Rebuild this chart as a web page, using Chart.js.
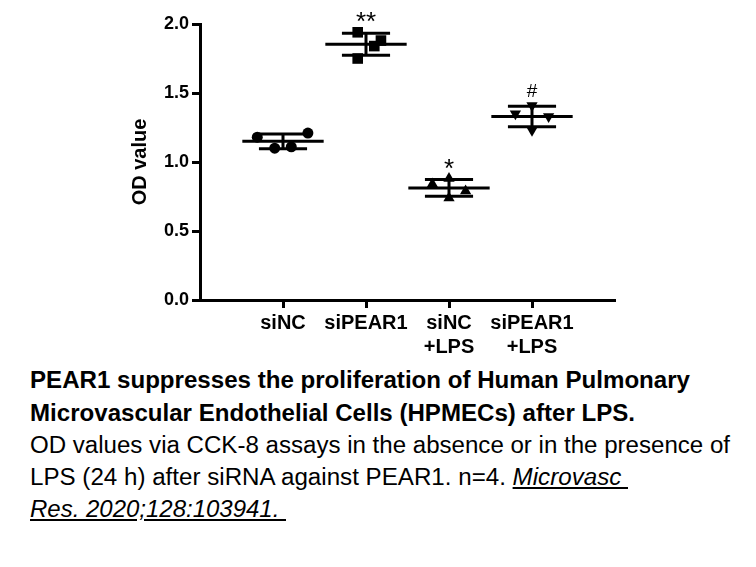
<!DOCTYPE html>
<html>
<head>
<meta charset="utf-8">
<script src="https://cdn.jsdelivr.net/npm/chart.js@4.4.0/dist/chart.umd.min.js"></script>
<style>
  body { margin: 0; background: #fff; width: 756px; height: 567px; overflow: hidden; position: relative;
         font-family: "Liberation Sans", Arial, sans-serif; }
  #wrap { position: absolute; left: 0; top: 0; width: 756px; height: 365px; }
  .cap { position: absolute; left: 30px; white-space: pre; font-size: 23px; line-height: 23px; color: #000;
         transform-origin: 0 0; }
  .b { font-weight: bold; }
  .ref { font-style: italic; text-decoration: underline; }
</style>
</head>
<body>
<div id="wrap"><canvas id="chart"></canvas></div>

<div class="cap b" style="top:369px" data-w="660">PEAR1 suppresses the proliferation of Human Pulmonary</div>
<div class="cap b" style="top:402px" data-w="605">Microvascular Endothelial Cells (HPMECs) after LPS.</div>
<div class="cap" style="top:434px" data-w="700">OD values via CCK-8 assays in the absence or in the presence of</div>
<div class="cap" style="top:466px" data-w="598">LPS (24 h) after siRNA against PEAR1. n=4. <span class="ref">Microvasc </span></div>
<div class="cap" style="top:498px" data-w="256"><span class="ref">Res. 2020;128:103941. </span></div>

<script>
// Data (OD values, n=4 per group)
const groups = ['siNC', 'siPEAR1', 'siNC +LPS', 'siPEAR1 +LPS'];
const tickLabels = [['siNC'], ['siPEAR1'], ['siNC', '+LPS'], ['siPEAR1', '+LPS']];
const siNC = [1.18, 1.10, 1.11, 1.21];
const siPEAR1 = [1.94, 1.88, 1.84, 1.75];
const siNC_LPS = [0.84, 0.88, 0.79, 0.74];
const siPEAR1_LPS = [1.41, 1.35, 1.33, 1.23];
const marks = ['', '**', '*', '#'];
const yTicks = [0, 0.5, 1.0, 1.5, 2.0];

const series = [siNC, siPEAR1, siNC_LPS, siPEAR1_LPS];

// Styling / layout
const FONT = '"Liberation Sans", Arial, sans-serif';
const jitter = [
  [-0.31, -0.1, 0.1, 0.3],
  [-0.1, 0.18, 0.1, -0.1],
  [-0.2, 0, 0.2, 0],
  [0, -0.2, 0.2, 0]
];
const markerStyles = [
  { pointStyle: 'circle', radius: 5.5, rotation: 0 },
  { pointStyle: 'rect', radius: 7.5, rotation: 0 },
  { pointStyle: 'triangle', radius: 6.5, rotation: 0 },
  { pointStyle: 'triangle', radius: 6.5, rotation: 180 }
];
const markFont = { '**': 26, '*': 26, '#': 19 };
const meanHalf = 0.49;
const sdHalf = 0.29;

function mean(a) { return a.reduce((s, v) => s + v, 0) / a.length; }
function sd(a) {
  const m = mean(a);
  return Math.sqrt(a.reduce((s, v) => s + (v - m) * (v - m), 0) / (a.length - 1));
}

const datasets = [];

// scatter points
series.forEach((vals, i) => {
  const st = markerStyles[i];
  datasets.push({
    label: groups[i],
    data: vals.map((v, j) => ({ x: i + 1 + jitter[i][j], y: v })),
    pointStyle: st.pointStyle,
    pointRadius: st.radius,
    pointRotation: st.rotation,
    backgroundColor: '#000',
    borderColor: '#000',
    borderWidth: 0,
    showLine: false
  });
});

// mean and SD bars
function lineSet(points) {
  return {
    data: points,
    showLine: true,
    pointRadius: 0,
    borderColor: '#000',
    borderWidth: 3,
    borderCapStyle: 'butt',
    fill: false
  };
}
series.forEach((vals, i) => {
  const m = mean(vals), s = sd(vals), c = i + 1;
  datasets.push(lineSet([{ x: c - meanHalf, y: m }, { x: c + meanHalf, y: m }]));
  datasets.push(lineSet([{ x: c - sdHalf, y: m + s }, { x: c + sdHalf, y: m + s }]));
  datasets.push(lineSet([{ x: c - sdHalf, y: m - s }, { x: c + sdHalf, y: m - s }]));
  datasets.push(lineSet([{ x: c, y: m - s }, { x: c, y: m + s }]));
});

// significance marks above each group
const marksPlugin = {
  id: 'marks',
  afterDatasetsDraw(chart) {
    const { ctx, scales: { x, y } } = chart;
    ctx.save();
    ctx.fillStyle = '#000';
    ctx.textAlign = 'center';
    ctx.textBaseline = 'alphabetic';
    marks.forEach((m, i) => {
      if (!m) return;
      ctx.font = markFont[m] + 'px ' + FONT;
      const tm = ctx.measureText(m);
      const center = y.getPixelForValue(Math.max(...series[i])) - 15;
      const base = center + (tm.actualBoundingBoxAscent - tm.actualBoundingBoxDescent) / 2;
      ctx.fillText(m, x.getPixelForValue(i + 1), base);
    });
    ctx.restore();
  }
};

const ctx = document.getElementById('chart').getContext('2d');
new Chart(ctx, {
  type: 'scatter',
  data: { datasets },
  plugins: [marksPlugin],
  options: {
    responsive: true,
    maintainAspectRatio: false,
    animation: false,
    layout: { padding: { left: 128, right: 141, top: 24, bottom: 0 } },
    plugins: { legend: { display: false }, tooltip: { enabled: false } },
    scales: {
      x: {
        type: 'linear',
        min: 0,
        max: 5,
        afterBuildTicks: (s) => { s.ticks = groups.map((g, i) => ({ value: i + 1 })); },
        afterFit: (s) => { s.height = 65; },
        border: { display: true, color: '#000', width: 3 },
        grid: { display: true, drawOnChartArea: false, drawTicks: true, tickLength: 8, tickWidth: 3, tickColor: '#000' },
        ticks: {
          autoSkip: false,
          maxRotation: 0,
          padding: 3,
          color: '#000',
          font: { family: FONT, size: 20, weight: 'bold', lineHeight: 1.2 },
          callback: (v) => tickLabels[v - 1] || ''
        }
      },
      y: {
        min: 0,
        max: 2.0,
        afterBuildTicks: (s) => { s.ticks = yTicks.map(v => ({ value: v })); },
        afterFit: (s) => { s.width = 72; },
        border: { display: true, color: '#000', width: 3 },
        grid: { display: true, drawOnChartArea: false, drawTicks: true, tickLength: 8, tickWidth: 3, tickColor: '#000' },
        ticks: {
          padding: 3,
          color: '#000',
          font: { family: FONT, size: 18, weight: 'bold' },
          callback: (v) => v.toFixed(1)
        },
        title: {
          display: true,
          text: 'OD value',
          color: '#000',
          padding: { top: 0, bottom: 2 },
          font: { family: FONT, size: 20, weight: 'bold' }
        }
      }
    }
  }
});

// stretch caption lines to the widths they have in the figure
document.querySelectorAll('.cap').forEach(el => {
  const w = el.getBoundingClientRect().width;
  const target = +el.dataset.w;
  el.style.transform = 'scaleX(' + (target / w) + ')';
});
</script>
</body>
</html>
